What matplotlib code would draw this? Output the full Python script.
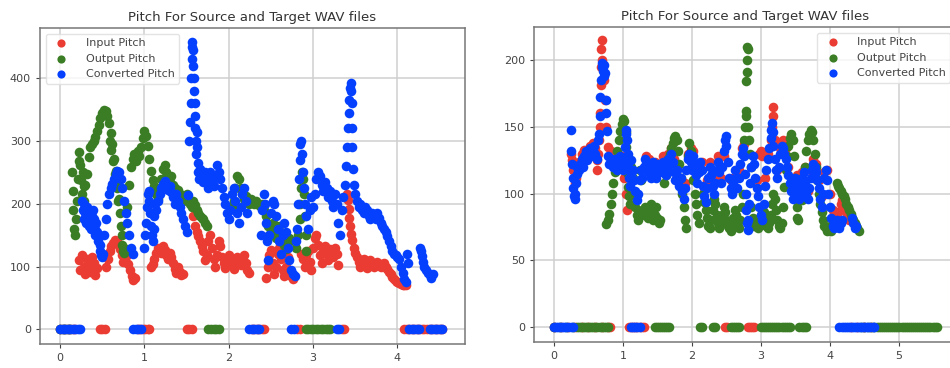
import matplotlib

matplotlib.use('Agg')

import matplotlib.pyplot as plt
import numpy as np

# pitch tracks as (time in s, pitch in Hz); pitch 0 = unvoiced frame

# ---------- left panel ----------
left_input = [
    (0.00, 0), (0.03, 0), (0.06, 0), (0.09, 0), (0.12, 0), (0.15, 0), (0.18, 0),
    (0.22, 110), (0.24, 95), (0.26, 118), (0.28, 100), (0.30, 88), (0.32, 112), (0.34, 102),
    (0.36, 92), (0.38, 115), (0.40, 105), (0.42, 86), (0.44, 98),
    (0.47, 0), (0.50, 0), (0.53, 0),
    (0.55, 100), (0.57, 112), (0.59, 125), (0.61, 132), (0.63, 138), (0.65, 142), (0.67, 140),
    (0.69, 136), (0.71, 128), (0.73, 118), (0.75, 108), (0.77, 112), (0.79, 118), (0.81, 104),
    (0.83, 94), (0.85, 85), (0.87, 78), (0.89, 82),
    (0.92, 0), (0.95, 0), (0.98, 0), (1.01, 0), (1.04, 0), (1.06, 0),
    (1.08, 100), (1.10, 104), (1.12, 112), (1.14, 122), (1.16, 130), (1.18, 128), (1.20, 122),
    (1.22, 132), (1.24, 126), (1.26, 118), (1.28, 112), (1.30, 121), (1.32, 115), (1.34, 105),
    (1.36, 96), (1.38, 90), (1.40, 100), (1.42, 92), (1.44, 86), (1.46, 88),
    (1.50, 0), (1.53, 0), (1.56, 0),
    (1.58, 180), (1.60, 165), (1.62, 155), (1.64, 148), (1.66, 140), (1.68, 132), (1.70, 125),
    (1.72, 110), (1.74, 118), (1.76, 140), (1.78, 150), (1.80, 130), (1.82, 112), (1.84, 100),
    (1.86, 118), (1.88, 140), (1.90, 132), (1.92, 115),
    (1.94, 105), (1.96, 98), (1.98, 110), (2.00, 118), (2.02, 112), (2.04, 104), (2.06, 96),
    (2.08, 108), (2.10, 115), (2.12, 110), (2.14, 102), (2.16, 112), (2.18, 118), (2.20, 105),
    (2.22, 95), (2.24, 90),
    (2.27, 0), (2.30, 0), (2.33, 0), (2.36, 0), (2.39, 0), (2.42, 0),
    (2.44, 82), (2.46, 100), (2.48, 118), (2.50, 126), (2.52, 105), (2.54, 88), (2.56, 100),
    (2.58, 120), (2.60, 130), (2.62, 112), (2.64, 95), (2.66, 85), (2.68, 100), (2.70, 115),
    (2.72, 95), (2.74, 85), (2.76, 80),
    (2.81, 0), (2.84, 0),
    (2.86, 120), (2.88, 112), (2.90, 100), (2.92, 118), (2.94, 125), (2.96, 108), (2.98, 95),
    (3.00, 130), (3.02, 145), (3.04, 150), (3.06, 135), (3.08, 118), (3.10, 105), (3.12, 125),
    (3.14, 132), (3.16, 120), (3.18, 110), (3.20, 128), (3.22, 125), (3.24, 115), (3.26, 130),
    (3.28, 120), (3.30, 102),
    (3.34, 0), (3.37, 0),
    (3.40, 215), (3.41, 206), (3.42, 192), (3.43, 178), (3.44, 164), (3.45, 152), (3.46, 142),
    (3.48, 130),
    (3.50, 122), (3.52, 115), (3.54, 108), (3.56, 100), (3.58, 110), (3.60, 112), (3.62, 105),
    (3.64, 98), (3.66, 108), (3.68, 110), (3.70, 104), (3.72, 100), (3.74, 106), (3.76, 108),
    (3.78, 104), (3.80, 100), (3.82, 104), (3.84, 106), (3.86, 100), (3.88, 96), (3.90, 92),
    (3.92, 88), (3.94, 84), (3.96, 80), (3.98, 77), (4.00, 75), (4.02, 73), (4.04, 72),
    (4.06, 71), (4.08, 70), (4.10, 70),
    (4.08, 0), (4.11, 0), (4.14, 0), (4.17, 0), (4.20, 0), (4.23, 0), (4.26, 0), (4.29, 0),
    (4.32, 0), (4.35, 0), (4.38, 0), (4.41, 0), (4.44, 0), (4.47, 0), (4.50, 0), (4.53, 0),
]

left_output = [
    (0.00, 0), (0.03, 0), (0.06, 0), (0.09, 0), (0.12, 0),
    (0.14, 250), (0.15, 220), (0.16, 190), (0.17, 160), (0.18, 150), (0.19, 175), (0.20, 205),
    (0.21, 240), (0.22, 268), (0.23, 282), (0.24, 262), (0.25, 238), (0.26, 215), (0.27, 250),
    (0.28, 228), (0.29, 205),
    (0.30, 230), (0.32, 248), (0.34, 275), (0.36, 290), (0.38, 296), (0.40, 300), (0.42, 306),
    (0.44, 316), (0.46, 326), (0.48, 336), (0.50, 345), (0.52, 350), (0.54, 348), (0.56, 340),
    (0.58, 328), (0.59, 300), (0.60, 312), (0.61, 285), (0.62, 295), (0.63, 268), (0.64, 272),
    (0.65, 248), (0.66, 252), (0.67, 225), (0.68, 230), (0.69, 205), (0.70, 208), (0.71, 185),
    (0.72, 165), (0.73, 150), (0.74, 135), (0.75, 125), (0.76, 122), (0.78, 128),
    (0.80, 195), (0.82, 230), (0.84, 258), (0.86, 272), (0.88, 280), (0.90, 268), (0.92, 284),
    (0.94, 276), (0.96, 290), (0.98, 305), (1.00, 316), (1.02, 308), (1.04, 292), (1.06, 272),
    (1.08, 252), (1.10, 238), (1.12, 228), (1.14, 215), (1.16, 208),
    (1.18, 225), (1.20, 240), (1.22, 255), (1.24, 262), (1.26, 250), (1.28, 240), (1.30, 235),
    (1.32, 245), (1.34, 230), (1.36, 225), (1.38, 218), (1.40, 222), (1.42, 215), (1.44, 210),
    (1.46, 205), (1.48, 212), (1.50, 215), (1.52, 205), (1.54, 200), (1.56, 195), (1.58, 205),
    (1.60, 198), (1.62, 190), (1.64, 185), (1.66, 180), (1.68, 178), (1.70, 175), (1.72, 170),
    (1.74, 165),
    (1.76, 0), (1.79, 0), (1.82, 0), (1.85, 0), (1.88, 0),
    (2.04, 195), (2.06, 205), (2.08, 225), (2.10, 245), (2.12, 240), (2.14, 225), (2.16, 215),
    (2.18, 208), (2.20, 212), (2.22, 205), (2.24, 200), (2.26, 208), (2.28, 205), (2.30, 200),
    (2.32, 205), (2.34, 200), (2.36, 198), (2.38, 195), (2.40, 200),
    (2.42, 190), (2.44, 180), (2.46, 165), (2.48, 150), (2.50, 160), (2.52, 170), (2.54, 155),
    (2.56, 145), (2.58, 150), (2.60, 165), (2.62, 150), (2.64, 140), (2.66, 135), (2.68, 128),
    (2.70, 138), (2.72, 145),
    (2.80, 130), (2.82, 150), (2.84, 175), (2.85, 200), (2.86, 225), (2.87, 250), (2.88, 240),
    (2.89, 215), (2.90, 180), (2.91, 150), (2.92, 125),
    (2.91, 0), (2.94, 0), (2.97, 0), (3.00, 0), (3.03, 0), (3.06, 0), (3.09, 0), (3.12, 0),
    (3.15, 0), (3.18, 0), (3.20, 0),
]

left_converted = [
    (0.00, 0), (0.03, 0), (0.06, 0), (0.09, 0), (0.12, 0), (0.15, 0), (0.18, 0), (0.21, 0),
    (0.24, 0),
    (0.26, 205), (0.27, 190), (0.28, 175), (0.29, 200), (0.30, 185), (0.31, 170), (0.32, 195),
    (0.33, 180), (0.34, 165), (0.35, 185), (0.36, 175), (0.37, 160), (0.38, 180), (0.39, 190),
    (0.40, 175), (0.41, 160), (0.42, 150), (0.43, 170), (0.44, 155), (0.45, 140), (0.46, 150),
    (0.47, 135), (0.48, 125), (0.49, 118), (0.50, 115), (0.51, 120),
    (0.52, 150), (0.54, 175), (0.56, 200), (0.58, 215), (0.60, 225), (0.62, 232), (0.64, 240),
    (0.66, 248), (0.68, 252), (0.70, 250), (0.72, 240), (0.74, 225), (0.76, 205), (0.78, 185),
    (0.80, 170), (0.82, 150), (0.84, 130), (0.86, 120),
    (0.87, 0), (0.90, 0), (0.93, 0), (0.96, 0),
    (1.00, 130), (1.01, 150), (1.02, 170), (1.03, 195), (1.04, 215), (1.05, 220), (1.06, 205),
    (1.07, 185), (1.08, 165), (1.09, 150), (1.10, 140), (1.11, 160), (1.12, 180), (1.13, 200),
    (1.14, 190),
    (1.16, 205), (1.18, 215), (1.20, 225), (1.22, 232), (1.24, 236), (1.26, 230), (1.28, 222),
    (1.30, 228), (1.32, 218), (1.34, 210), (1.36, 200), (1.38, 215), (1.40, 205), (1.42, 195),
    (1.44, 185), (1.46, 175), (1.48, 165), (1.50, 155), (1.52, 214),
    (1.53, 300), (1.54, 330), (1.55, 360), (1.555, 400), (1.56, 430), (1.565, 450), (1.57, 457),
    (1.575, 445), (1.58, 420), (1.585, 400), (1.59, 380), (1.595, 360), (1.60, 340),
    (1.605, 320), (1.61, 300), (1.615, 280), (1.62, 315), (1.625, 290), (1.63, 265),
    (1.64, 250), (1.65, 240),
    (1.66, 255), (1.68, 245), (1.70, 235), (1.72, 250), (1.74, 240), (1.76, 225), (1.78, 250),
    (1.80, 238), (1.82, 228), (1.84, 245), (1.86, 262), (1.88, 250), (1.90, 240), (1.92, 225),
    (1.94, 210), (1.96, 200), (1.98, 185), (2.00, 175),
    (2.02, 190), (2.04, 215), (2.06, 225), (2.08, 205), (2.10, 185), (2.12, 170), (2.14, 195),
    (2.16, 215), (2.18, 225), (2.20, 205), (2.22, 185),
    (2.24, 0), (2.27, 0), (2.30, 0), (2.33, 0), (2.36, 0),
    (2.38, 150), (2.40, 190), (2.42, 215), (2.43, 200), (2.44, 170), (2.45, 140), (2.46, 110),
    (2.48, 150), (2.50, 185), (2.52, 205), (2.54, 200), (2.56, 180), (2.58, 160), (2.60, 140),
    (2.62, 120), (2.64, 150), (2.66, 170), (2.68, 155), (2.70, 130), (2.72, 110), (2.74, 95),
    (2.76, 88), (2.78, 85),
    (2.74, 0), (2.77, 0),
    (2.80, 140), (2.81, 160), (2.82, 200), (2.83, 240), (2.84, 270), (2.85, 295), (2.86, 300),
    (2.87, 280), (2.88, 250), (2.89, 225), (2.90, 200),
    (2.92, 180), (2.94, 160), (2.96, 190), (2.98, 210), (3.00, 195), (3.02, 215), (3.04, 240),
    (3.06, 250), (3.08, 245), (3.10, 230), (3.12, 220), (3.14, 235), (3.16, 225), (3.18, 210),
    (3.20, 220), (3.22, 205), (3.24, 195), (3.26, 215), (3.28, 200), (3.30, 170), (3.32, 150),
    (3.34, 190), (3.36, 210),
    (3.28, 0), (3.31, 0),
    (3.38, 230), (3.39, 260), (3.40, 290), (3.41, 320), (3.42, 345), (3.43, 365), (3.44, 385),
    (3.445, 392), (3.45, 380), (3.455, 360), (3.46, 320), (3.465, 290), (3.47, 255),
    (3.48, 230),
    (3.50, 215), (3.52, 205), (3.54, 195), (3.56, 200), (3.58, 190), (3.60, 185), (3.62, 195),
    (3.64, 190), (3.66, 180), (3.68, 175), (3.70, 185), (3.72, 180), (3.74, 175), (3.76, 185),
    (3.78, 178), (3.80, 170), (3.82, 165), (3.84, 160), (3.86, 155), (3.88, 148), (3.90, 140),
    (3.92, 132), (3.94, 125), (3.96, 120), (3.98, 118), (4.00, 115), (4.02, 112), (4.04, 100),
    (4.06, 90), (4.08, 80), (4.10, 75), (4.11, 120), (4.12, 105),
    (4.14, 0), (4.17, 0), (4.20, 0), (4.23, 0), (4.26, 0),
    (4.27, 130), (4.28, 124), (4.29, 116), (4.30, 108), (4.32, 100), (4.34, 95), (4.36, 90),
    (4.38, 86), (4.40, 82), (4.42, 88),
    (4.38, 0), (4.41, 0), (4.44, 0), (4.47, 0), (4.50, 0), (4.53, 0),
]

# ---------- right panel ----------
right_input = [
    (0.00, 0), (0.10, 0), (0.20, 0), (0.30, 0), (0.40, 0), (0.50, 0), (0.60, 0), (0.70, 0),
    (0.78, 0), (0.81, 0),
    (0.24, 130), (0.26, 125), (0.28, 118), (0.30, 108), (0.32, 112), (0.34, 120), (0.36, 124),
    (0.40, 130), (0.44, 133), (0.48, 128), (0.52, 136), (0.56, 138), (0.60, 134), (0.62, 125),
    (0.63, 118), (0.64, 130), (0.65, 140), (0.66, 150), (0.67, 160), (0.675, 181), (0.68, 195),
    (0.685, 208), (0.69, 215), (0.70, 200), (0.72, 185), (0.74, 170), (0.76, 150), (0.78, 135),
    (0.82, 132), (0.86, 128), (0.90, 130), (0.94, 126), (0.98, 128), (1.02, 112), (1.04, 100),
    (1.06, 88),
    (1.09, 0), (1.12, 0), (1.15, 0), (1.18, 0), (1.21, 0), (1.24, 0), (1.27, 0), (1.30, 0),
    (1.34, 128), (1.38, 126), (1.42, 120), (1.46, 124), (1.50, 120), (1.54, 122), (1.58, 128),
    (1.62, 122), (1.66, 130), (1.70, 134), (1.74, 126), (1.78, 120), (1.82, 112), (1.86, 104),
    (1.90, 108), (1.94, 130), (1.98, 134), (2.02, 132), (2.06, 120), (2.10, 122), (2.14, 124),
    (2.18, 104), (2.22, 110), (2.26, 124), (2.30, 112), (2.34, 112), (2.38, 128), (2.42, 112),
    (2.46, 128),
    (2.48, 0), (2.51, 0),
    (2.56, 110), (2.60, 112), (2.64, 118), (2.68, 118), (2.72, 134), (2.75, 137),
    (2.81, 0), (2.84, 0), (2.87, 0), (2.90, 0),
    (2.94, 110), (2.98, 130), (3.00, 132), (3.02, 128), (3.06, 112), (3.10, 130), (3.14, 140),
    (3.16, 150), (3.17, 158), (3.18, 165), (3.20, 140), (3.24, 118), (3.28, 134), (3.32, 140),
    (3.36, 134), (3.40, 120), (3.44, 108), (3.48, 110), (3.52, 114), (3.56, 102), (3.60, 116),
    (3.64, 120), (3.68, 102), (3.72, 118), (3.76, 126), (3.80, 122), (3.84, 110), (3.88, 98),
    (3.92, 116), (3.96, 118), (4.00, 100), (4.04, 88), (4.08, 82), (4.12, 86), (4.16, 92),
    (4.18, 95), (4.20, 96), (4.22, 90), (4.24, 86), (4.26, 82), (4.28, 80),
    (4.30, 0), (4.40, 0), (4.50, 0), (4.60, 0),
]

right_output = [
    (0.00, 0), (0.09, 0), (0.18, 0), (0.27, 0),
    (0.33, 0), (0.36, 0), (0.39, 0), (0.42, 0), (0.45, 0), (0.48, 0), (0.51, 0), (0.54, 0),
    (0.57, 0), (0.60, 0), (0.63, 0), (0.66, 0), (0.69, 0), (0.72, 0), (0.75, 0), (0.78, 0),
    (0.76, 77), (0.78, 80), (0.80, 85), (0.82, 92), (0.84, 100), (0.86, 108), (0.88, 116),
    (0.90, 124), (0.92, 132), (0.94, 140), (0.96, 147), (0.98, 152), (1.00, 156), (1.02, 154),
    (1.04, 146), (1.05, 135), (1.06, 125), (1.07, 115), (1.08, 105), (1.09, 98), (1.10, 92),
    (1.12, 120), (1.14, 112), (1.16, 100), (1.18, 90), (1.20, 84), (1.22, 80),
    (1.24, 118), (1.26, 110), (1.28, 88), (1.30, 84), (1.32, 90), (1.34, 86), (1.36, 82),
    (1.38, 88), (1.40, 92), (1.42, 86), (1.44, 80), (1.46, 84), (1.48, 90), (1.50, 82),
    (1.52, 78), (1.54, 80),
    (1.46, 0), (1.49, 0), (1.52, 0), (1.55, 0), (1.58, 0), (1.61, 0), (1.64, 0), (1.67, 0),
    (1.60, 108), (1.62, 114), (1.64, 120), (1.66, 126), (1.68, 130), (1.70, 134), (1.72, 138),
    (1.74, 142), (1.76, 143), (1.78, 140), (1.80, 132), (1.82, 122), (1.84, 112), (1.86, 100),
    (1.88, 90), (1.90, 80), (1.92, 74), (1.94, 128), (1.96, 138), (1.98, 132), (2.00, 120),
    (2.02, 110), (2.04, 100), (2.06, 92), (2.08, 84), (2.10, 78),
    (2.12, 0), (2.15, 0),
    (2.16, 100), (2.18, 94), (2.20, 88), (2.22, 82), (2.24, 76), (2.26, 74), (2.28, 80),
    (2.30, 88), (2.32, 96), (2.34, 92), (2.36, 84), (2.38, 78), (2.40, 74), (2.42, 78),
    (2.44, 84), (2.46, 90), (2.48, 86), (2.50, 80), (2.52, 76), (2.54, 74), (2.56, 72),
    (2.58, 76), (2.60, 82), (2.62, 88), (2.64, 84), (2.66, 78), (2.68, 74), (2.70, 80),
    (2.72, 90), (2.74, 100),
    (2.30, 0), (2.33, 0),
    (2.56, 0), (2.59, 0), (2.62, 0), (2.65, 0), (2.68, 0),
    (2.76, 140), (2.77, 150), (2.78, 158), (2.785, 162), (2.79, 184), (2.795, 191),
    (2.80, 200), (2.805, 210), (2.81, 208), (2.82, 150), (2.83, 140), (2.84, 130), (2.85, 120),
    (2.86, 90), (2.88, 82), (2.90, 76),
    (2.96, 74), (2.98, 78), (3.00, 84), (3.02, 90), (3.04, 86), (3.06, 80), (3.08, 76),
    (3.10, 74), (3.12, 78), (3.14, 84), (3.16, 92), (3.18, 100), (3.20, 96), (3.22, 88),
    (3.24, 80), (3.26, 76), (3.28, 74),
    (3.00, 0), (3.03, 0), (3.06, 0), (3.09, 0), (3.12, 0), (3.15, 0), (3.18, 0), (3.21, 0),
    (3.24, 0), (3.27, 0), (3.30, 0), (3.33, 0), (3.36, 0), (3.39, 0), (3.42, 0),
    (3.30, 78), (3.32, 90), (3.34, 105), (3.36, 118), (3.38, 128), (3.40, 136), (3.42, 142),
    (3.44, 145), (3.46, 140), (3.48, 128), (3.50, 112), (3.51, 100), (3.52, 90), (3.53, 82),
    (3.54, 80),
    (3.56, 0), (3.59, 0), (3.62, 0), (3.65, 0),
    (3.60, 95), (3.62, 108), (3.64, 120), (3.66, 132), (3.68, 140), (3.70, 145), (3.72, 148),
    (3.74, 146), (3.76, 140), (3.78, 130), (3.80, 120), (3.82, 110), (3.84, 100), (3.86, 92),
    (3.88, 86), (3.90, 80), (3.92, 76), (3.94, 74), (3.96, 72), (3.98, 74), (4.00, 76),
    (4.02, 72),
    (4.10, 108), (4.12, 106), (4.14, 104), (4.16, 102), (4.18, 100), (4.20, 98), (4.22, 96),
    (4.24, 92), (4.26, 90), (4.28, 88), (4.30, 85), (4.32, 82), (4.34, 80), (4.36, 78),
    (4.38, 76), (4.40, 74), (4.42, 72),
    (4.45, 0), (4.50, 0), (4.55, 0), (4.60, 0), (4.64, 0), (4.68, 0), (4.71, 0), (4.74, 0),
    (4.77, 0), (4.80, 0), (4.83, 0), (4.86, 0), (4.89, 0), (4.92, 0), (4.95, 0), (4.98, 0),
    (5.01, 0), (5.04, 0), (5.07, 0), (5.10, 0), (5.13, 0), (5.16, 0), (5.19, 0), (5.22, 0),
    (5.25, 0), (5.28, 0), (5.31, 0), (5.34, 0), (5.37, 0), (5.40, 0), (5.43, 0), (5.46, 0),
    (5.49, 0), (5.52, 0), (5.55, 0),
]

right_converted = [
    (0.00, 0), (0.03, 0), (0.06, 0), (0.09, 0), (0.12, 0), (0.15, 0), (0.18, 0), (0.21, 0),
    (0.24, 0), (0.27, 0),
    (0.24, 148), (0.25, 132), (0.26, 122), (0.27, 112), (0.28, 104), (0.29, 98), (0.30, 96),
    (0.31, 100), (0.32, 108), (0.33, 115), (0.34, 120), (0.36, 118), (0.38, 122), (0.40, 126),
    (0.42, 120), (0.44, 128), (0.46, 132), (0.48, 125), (0.50, 130), (0.52, 134), (0.54, 128),
    (0.56, 132), (0.58, 136), (0.60, 130), (0.62, 126), (0.64, 140),
    (0.65, 145), (0.66, 158), (0.67, 172), (0.68, 185), (0.69, 195), (0.70, 198), (0.71, 192),
    (0.72, 188), (0.73, 196), (0.74, 190), (0.75, 170), (0.76, 160), (0.77, 147),
    (0.78, 128), (0.80, 122), (0.82, 126), (0.84, 124), (0.86, 120), (0.88, 126), (0.90, 124),
    (0.92, 118), (0.94, 125), (0.96, 128), (0.98, 122), (1.00, 118),
    (1.02, 125), (1.03, 135), (1.04, 145), (1.05, 148), (1.06, 140), (1.07, 130), (1.08, 120),
    (1.09, 112), (1.10, 106), (1.11, 115), (1.12, 125),
    (1.12, 0), (1.15, 0), (1.18, 0), (1.21, 0), (1.24, 0),
    (1.14, 118), (1.16, 110), (1.18, 102), (1.20, 95), (1.22, 100), (1.24, 110), (1.26, 118),
    (1.28, 112), (1.30, 120), (1.32, 126), (1.34, 122), (1.36, 116), (1.38, 120), (1.40, 112),
    (1.42, 118), (1.44, 124), (1.46, 118), (1.48, 112), (1.50, 118), (1.52, 122), (1.54, 116),
    (1.56, 120), (1.58, 124), (1.60, 118), (1.62, 114), (1.64, 120), (1.66, 126), (1.68, 122),
    (1.70, 130), (1.72, 124), (1.74, 116), (1.76, 110), (1.78, 118), (1.80, 112), (1.82, 106),
    (1.84, 112), (1.86, 102), (1.88, 96), (1.90, 104), (1.92, 118), (1.94, 126), (1.96, 130),
    (1.98, 124), (2.00, 118), (2.02, 128), (2.04, 122), (2.06, 114), (2.08, 108), (2.10, 116),
    (2.12, 124), (2.14, 118), (2.16, 106), (2.18, 98), (2.20, 94), (2.22, 104), (2.24, 112),
    (2.26, 120), (2.28, 114), (2.30, 106), (2.32, 100), (2.34, 108), (2.36, 118), (2.38, 124),
    (2.40, 116), (2.42, 108), (2.44, 120), (2.46, 132), (2.48, 140), (2.49, 143), (2.50, 136),
    (2.52, 124), (2.54, 112), (2.56, 104), (2.58, 100), (2.60, 108), (2.62, 118), (2.64, 112),
    (2.66, 104), (2.68, 112), (2.70, 122), (2.72, 130), (2.74, 134), (2.76, 128), (2.77, 115),
    (2.78, 100), (2.79, 88), (2.80, 78), (2.81, 73), (2.82, 80), (2.83, 92), (2.84, 108),
    (2.86, 120), (2.88, 128), (2.90, 122), (2.92, 112), (2.94, 104), (2.96, 98), (2.98, 90),
    (3.00, 84), (3.02, 80), (3.04, 92), (3.06, 106), (3.08, 118), (3.10, 126), (3.12, 134),
    (3.14, 142), (3.15, 148), (3.16, 153), (3.17, 146), (3.18, 136), (3.20, 126), (3.22, 118),
    (3.24, 112), (3.26, 120), (3.28, 130), (3.30, 136), (3.32, 134), (3.34, 130), (3.36, 126),
    (3.38, 120), (3.40, 114), (3.42, 108), (3.44, 102), (3.46, 96), (3.48, 104), (3.50, 112),
    (3.52, 108), (3.54, 100), (3.56, 96), (3.58, 104), (3.60, 112), (3.62, 116), (3.64, 108),
    (3.66, 100), (3.68, 96), (3.70, 104), (3.72, 112), (3.74, 118), (3.76, 122), (3.78, 120),
    (3.80, 116), (3.82, 110), (3.84, 104), (3.86, 96), (3.88, 90), (3.90, 100), (3.92, 112),
    (3.94, 118), (3.96, 110), (3.98, 100), (4.00, 90), (4.02, 82), (4.04, 76), (4.06, 74),
    (4.08, 78), (4.10, 80), (4.12, 76), (4.14, 74), (4.16, 78), (4.18, 80),
    (4.32, 82), (4.34, 78), (4.36, 74), (4.38, 76),
    (4.14, 0), (4.17, 0), (4.20, 0), (4.23, 0), (4.26, 0), (4.29, 0), (4.32, 0), (4.35, 0),
    (4.38, 0), (4.41, 0), (4.44, 0), (4.47, 0), (4.50, 0), (4.53, 0), (4.56, 0), (4.59, 0),
    (4.62, 0), (4.64, 0),
]

labels = ['Input Pitch', 'Output Pitch', 'Converted Pitch']
colors = ['#ea3c32', '#3a7d24', '#0540ff']

W, H = 950, 368
fig = plt.figure(figsize=(W / 100, H / 100), dpi=100)

# left panel spans px 40..465, right panel px 534..956 (cut by the figure edge)
ax1 = fig.add_axes([40 / W, (H - 344) / H, 425 / W, 316 / H])
ax2 = fig.add_axes([534 / W, (H - 342) / H, 422 / W, 315 / H])


def draw(ax, tracks, legend_loc, xlim, ylim, yticks, xticks):
    for pts, color, label in zip(tracks, colors, labels):
        arr = np.array(pts, dtype=float)
        ax.scatter(arr[:, 0], arr[:, 1], s=48, c=color, label=label, linewidths=0)
    ax.set_xlim(*xlim)
    ax.set_ylim(*ylim)
    ax.set_xticks(xticks)
    ax.set_yticks(yticks)
    ax.grid(True, color='#cfcfcf', linewidth=1.1)
    ax.set_axisbelow(True)
    for sp in ax.spines.values():
        sp.set_color('#777777')
        sp.set_linewidth(1.1)
    ax.tick_params(labelsize=8, colors='#444444', length=3)
    ax.set_title('Pitch For Source and Target WAV files', fontsize=9.5, color='#333333', pad=5)
    ax.legend(loc=legend_loc, fontsize=8, scatterpoints=1, markerscale=0.85,
              frameon=True, edgecolor='#dddddd', borderaxespad=0.5, handletextpad=1.2,
              labelcolor='#444444')


draw(ax1, [left_input, left_output, left_converted], 'upper left',
     (-0.237, 4.80), (-23.4, 480), [0, 100, 200, 300, 400], [0, 1, 2, 3, 4])
draw(ax2, [right_input, right_output, right_converted], 'upper right',
     (-0.29, 5.83), (-11, 224.7), [0, 50, 100, 150, 200], [0, 1, 2, 3, 4, 5])

plt.savefig('out.png', dpi=100)
